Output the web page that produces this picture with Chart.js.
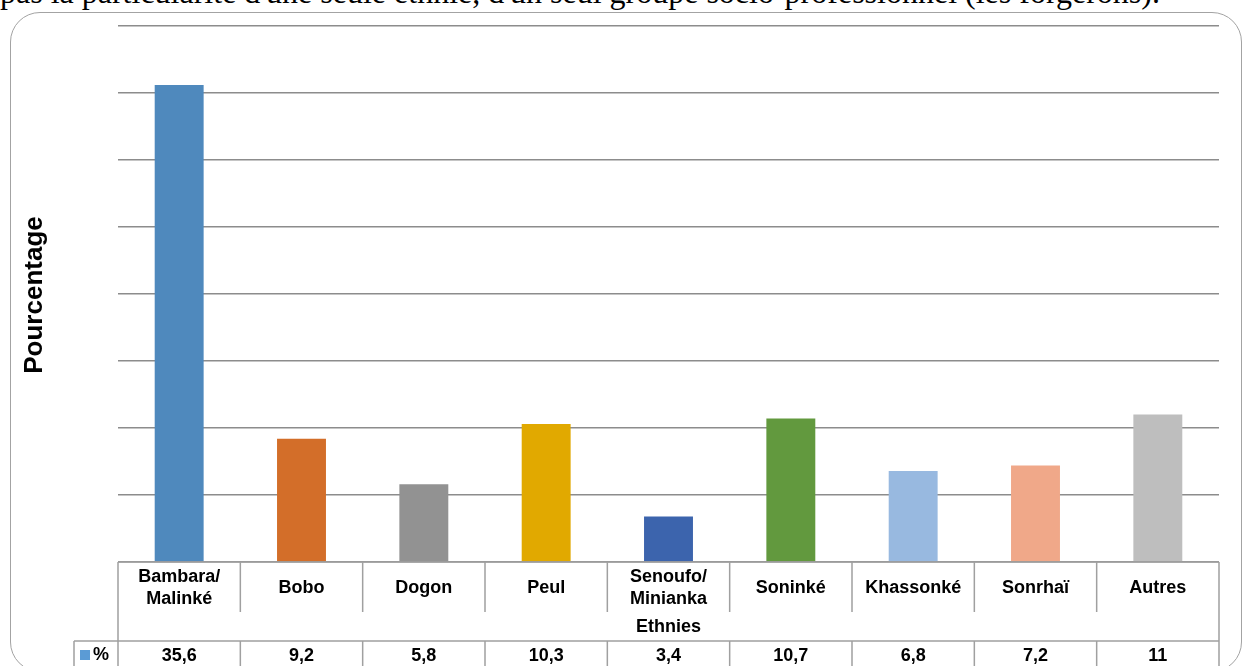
<!DOCTYPE html>
<html lang="fr">
<head>
<meta charset="utf-8">
<title>Ethnies</title>
<script src="https://cdn.jsdelivr.net/npm/chart.js@4/dist/chart.umd.min.js"></script>
<style>
  html, body { margin: 0; padding: 0; background: #fff; overflow: hidden; }
  #wrap { position: relative; width: 1243px; height: 666px; }
  #chart { position: absolute; left: 0; top: 0; }
  .intro { position: absolute; left: 0; top: -24px; font: 32px 'Liberation Serif', 'Times New Roman', serif; line-height: 32px; white-space: nowrap; color: #000; }
  .frame { position: absolute; left: 10px; top: 12px; width: 1232px; height: 660px; border: 1.5px solid #a3a3a3; border-radius: 30px; box-sizing: border-box; }
</style>
</head>
<body>
<div id="wrap">
  <div class="intro">pas la particularité d'une seule ethnie, d'un seul groupe socio-professionnel (les forgerons).</div>
  <div class="frame"></div>
  <canvas id="chart" width="1243" height="666"></canvas>
</div>
<script>
// données
const categories = [['Bambara/', 'Malinké'], ['Bobo'], ['Dogon'], ['Peul'], ['Senoufo/', 'Minianka'], ['Soninké'], ['Khassonké'], ['Sonrhaï'], ['Autres']];
const values = [35.6, 9.2, 5.8, 10.3, 3.4, 10.7, 6.8, 7.2, 11];
const valueLabels = ['35,6', '9,2', '5,8', '10,3', '3,4', '10,7', '6,8', '7,2', '11'];
const barColors = ['#4f89bd', '#d36e29', '#929292', '#e1a900', '#3c64ad', '#62993e', '#98b9e0', '#f0a889', '#bebebe'];
const seriesName = '%';
const axisTitle = 'Ethnies';
const yTitle = 'Pourcentage';

const lineColor = '#a0a0a0';
const textFont = "bold 18px 'Liberation Sans', Arial, sans-serif";

// tableau de données sous le graphique
const dataTable = {
    id: 'dataTable',
    afterDraw(chart) {
        const c = chart.ctx;
        const area = chart.chartArea;
        const n = categories.length;
        const w = (area.right - area.left) / n;
        const top = area.bottom;
        const rowCat = top + 50;
        const rowEth = rowCat + 29;
        const bottom = 700;

        c.save();
        c.strokeStyle = lineColor;
        c.lineWidth = 1.5;
        c.beginPath();
        // bords
        c.moveTo(area.left, top); c.lineTo(area.right, top);
        c.moveTo(area.left - 44, rowEth); c.lineTo(area.right, rowEth);
        c.moveTo(area.left, top); c.lineTo(area.left, bottom);
        c.moveTo(area.right, top); c.lineTo(area.right, bottom);
        c.moveTo(area.left - 44, rowEth); c.lineTo(area.left - 44, bottom);
        for (let i = 1; i < n; i++) {
            const x = area.left + i * w;
            c.moveTo(x, top); c.lineTo(x, rowCat);
            c.moveTo(x, rowEth); c.lineTo(x, bottom);
        }
        c.stroke();

        c.fillStyle = '#000';
        c.font = textFont;
        c.textAlign = 'center';
        c.textBaseline = 'middle';
        categories.forEach((lines, i) => {
            const cx = chart.scales.x.getPixelForValue(i);
            const mid = (top + rowCat) / 2 + 1;
            lines.forEach((t, k) => {
                c.fillText(t, cx, mid + (k - (lines.length - 1) / 2) * 22);
            });
            c.fillText(valueLabels[i], cx, rowEth + 15);
        });
        c.fillText(axisTitle, (area.left + area.right) / 2, (rowCat + rowEth) / 2 + 1);

        // légende
        c.fillStyle = '#5b9bd5';
        c.fillRect(area.left - 38, rowEth + 9, 10, 10);
        c.fillStyle = '#000';
        c.textAlign = 'left';
        c.fillText(seriesName, area.left - 25, rowEth + 14);

        // titre axe Y
        c.translate(35, 295);
        c.rotate(-Math.PI / 2);
        c.textAlign = 'center';
        c.font = "bold 26px 'Liberation Sans', Arial, sans-serif";
        c.fillText(yTitle, 0, 0);
        c.restore();
    }
};

new Chart(document.getElementById('chart'), {
    type: 'bar',
    data: {
        labels: categories.map(l => l.join(' ')),
        datasets: [{
            label: seriesName,
            data: values,
            backgroundColor: barColors,
            borderWidth: 0,
            barPercentage: 0.4,
            categoryPercentage: 1
        }]
    },
    options: {
        responsive: false,
        devicePixelRatio: 1,
        animation: false,
        layout: { padding: { left: 118, right: 24, top: 26, bottom: 104 } },
        plugins: { legend: { display: false }, tooltip: { enabled: false } },
        scales: {
            x: { display: false },
            y: {
                min: 0,
                max: 40,
                ticks: { display: false, stepSize: 5 },
                grid: { color: '#8c8c8c', lineWidth: 1.5, drawTicks: false },
                border: { display: false }
            }
        }
    },
    plugins: [dataTable]
});
</script>
</body>
</html>
